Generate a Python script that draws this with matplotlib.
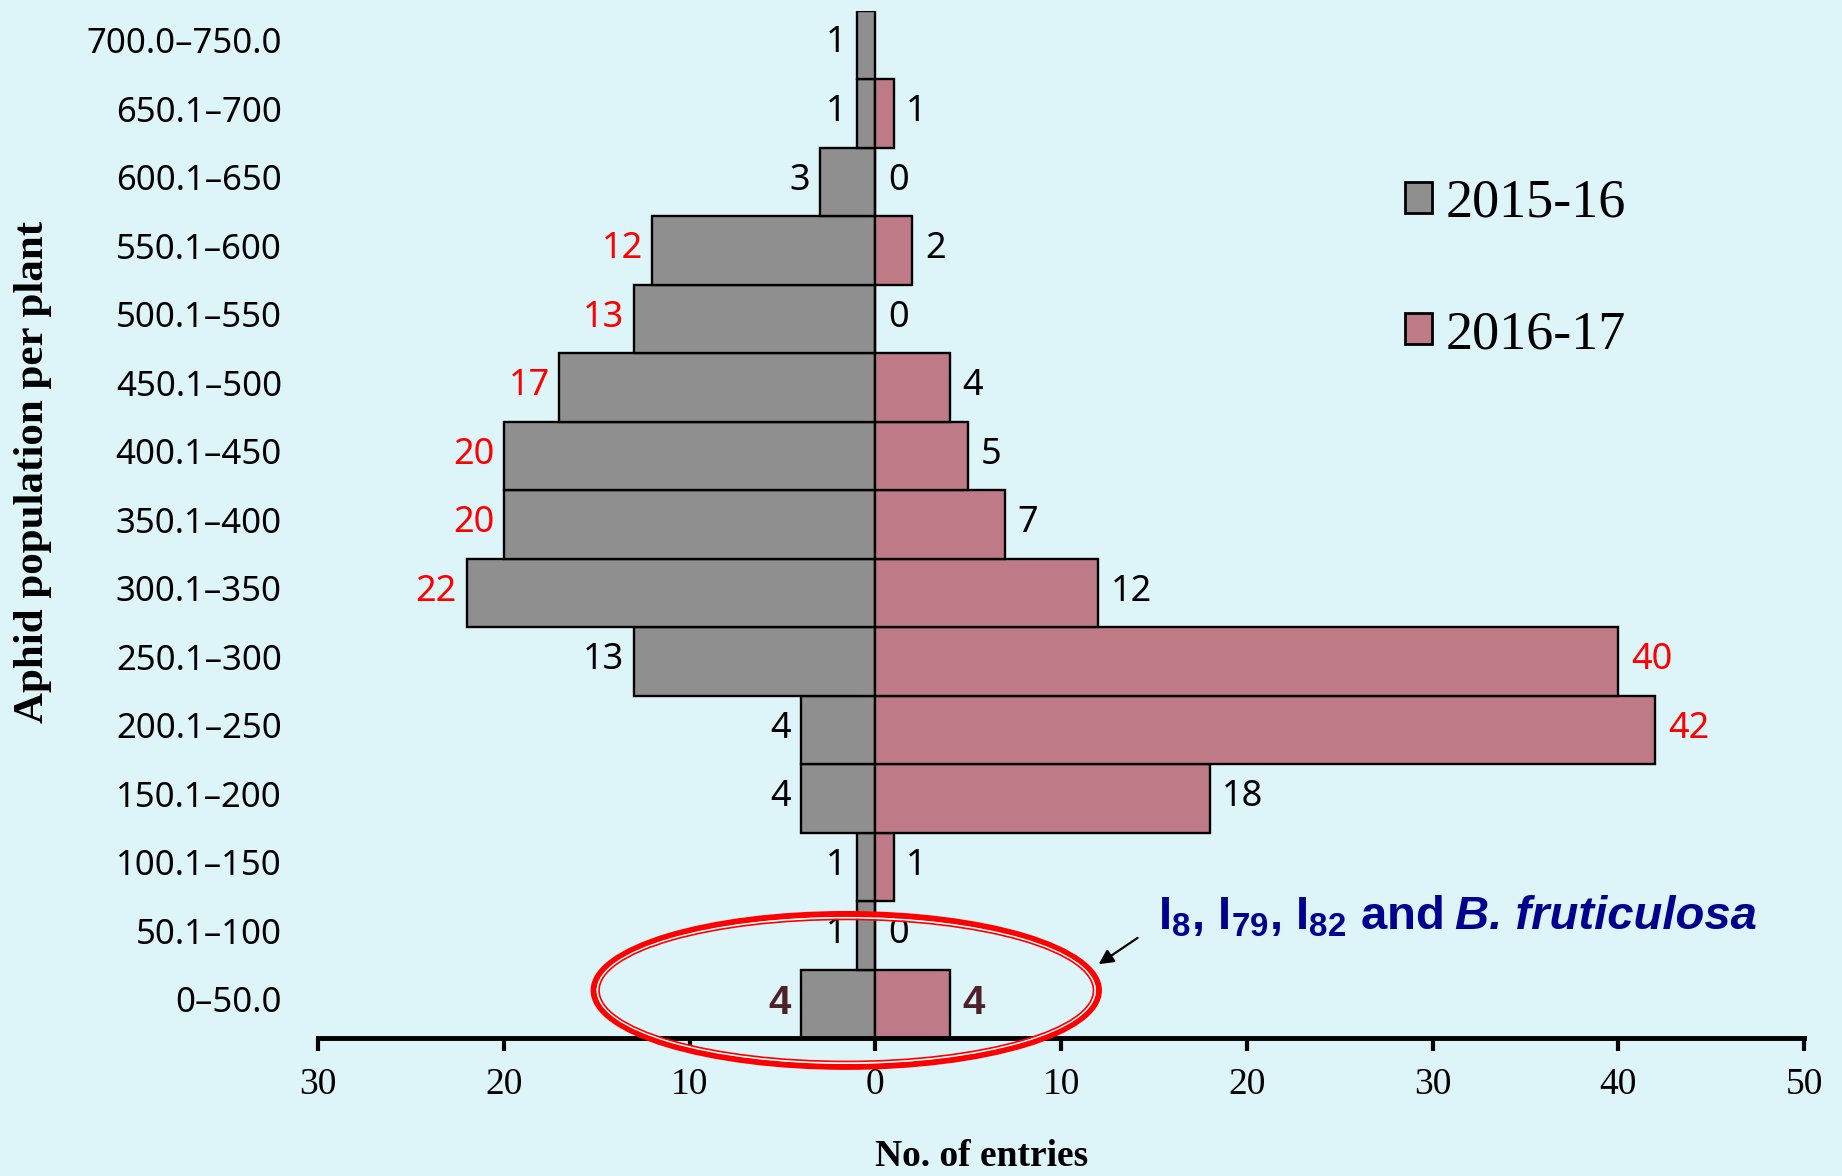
import matplotlib
matplotlib.use("Agg")
import matplotlib.pyplot as plt
from matplotlib.patches import Ellipse, Patch
from matplotlib import font_manager
import matplotlib.transforms as mtransforms
import numpy as np

# ---------------- data ----------------
categories = ["0–50.0", "50.1–100", "100.1–150", "150.1–200", "200.1–250",
              "250.1–300", "300.1–350", "350.1–400", "400.1–450", "450.1–500",
              "500.1–550", "550.1–600", "600.1–650", "650.1–700", "700.0–750.0"]
season_2015_16 = [4, 1, 1, 4, 4, 13, 22, 20, 20, 17, 13, 12, 3, 1, 1]
season_2016_17 = [4, 0, 1, 18, 42, 40, 12, 7, 5, 4, 0, 2, 0, 1, None]
series_names = ["2015-16", "2016-17"]
xtick_values = [-30, -20, -10, 0, 10, 20, 30, 40, 50]
xtick_labels = ["30", "20", "10", "0", "10", "20", "30", "40", "50"]

# ---------------- styles ----------------
BG = "#ddf4f9"
GRAY = "#8f8f8f"
PINK = "#bf7a87"
RED = "#ff0000"
NAVY = "#00008f"
left_label_colors = ["#4d2126", "black", "black", "black", "black", "black", RED, RED, RED, RED,
                     RED, RED, "black", "black", "black"]
right_label_colors = ["#4d2126", "black", "black", "black", RED, RED, "black", "black", "black",
                      "black", "black", "black", "black", "black", "black"]


def has_font(name):
    try:
        font_manager.findfont(font_manager.FontProperties(family=name), fallback_to_default=False)
        return True
    except Exception:
        return False


NARROW = "Liberation Sans Narrow" if has_font("Liberation Sans Narrow") else "Liberation Sans"
SERIF = "Liberation Serif"
SANS = "Noto Sans"

plt.rcParams["mathtext.fontset"] = "custom"
plt.rcParams["mathtext.rm"] = NARROW + ":bold"
plt.rcParams["mathtext.bf"] = NARROW + ":bold"
plt.rcParams["mathtext.it"] = NARROW + ":italic:bold"
plt.rcParams["mathtext.default"] = "rm"

W, H = 1842, 1176
fig = plt.figure(figsize=(W / 100, H / 100), dpi=100, facecolor=BG)
ax = fig.add_axes([318 / W, 1 - 1038.4 / H, (1804 - 318) / W, (1038.4 - 10.6) / H])
ax.set_facecolor(BG)

y = np.arange(len(categories))
left_vals = np.array(season_2015_16, dtype=float)
ax.barh(y, -left_vals, height=1.0, color=GRAY, edgecolor="black", linewidth=1.7, zorder=2)
ry = [i for i, v in enumerate(season_2016_17) if v is not None]
rv = [season_2016_17[i] for i in ry]
ax.barh(ry, rv, height=1.0, color=PINK, edgecolor="black", linewidth=1.7, zorder=2)

ax.set_xlim(-30, 50)
ax.set_ylim(-0.5, len(categories) - 0.5)

for s in ["left", "right", "top"]:
    ax.spines[s].set_visible(False)
ax.spines["bottom"].set_linewidth(3.5)
ax.spines["bottom"].set_zorder(3)

ax.set_xticks(xtick_values)
ax.set_xticklabels(xtick_labels, fontfamily=SERIF, fontsize=27)
ax.tick_params(axis="x", direction="out", length=9, width=3, pad=12)
ax.set_yticks(y)
ax.set_yticklabels(categories, fontfamily=SANS, fontsize=25)
ax.tick_params(axis="y", length=0, pad=26)
shift = mtransforms.ScaledTranslation(0, 3.5 / 72, fig.dpi_scale_trans)
for lbl in ax.get_yticklabels():
    lbl.set_transform(lbl.get_transform() + shift)

# value labels
for i, v in enumerate(season_2015_16):
    if i == 0:
        kw = dict(fontfamily=NARROW, fontweight="bold", fontsize=29)
    else:
        kw = dict(fontfamily=SANS, fontsize=26)
    ax.annotate(str(v), xy=(-v, i), xytext=(-7, 1), textcoords="offset points",
                ha="right", va="center", color=left_label_colors[i], **kw)
for i, v in enumerate(season_2016_17):
    if v is None:
        continue
    if i == 0:
        kw = dict(fontfamily=NARROW, fontweight="bold", fontsize=29)
    else:
        kw = dict(fontfamily=SANS, fontsize=26)
    ax.annotate(str(v), xy=(v, i), xytext=(9, 1), textcoords="offset points",
                ha="left", va="center", color=right_label_colors[i], **kw)

# ellipse highlight (double line)
px_x = 1 / 18.56
px_y = 1 / 68.5
cx, cy, ew, eh = -1.56, 0.2, 27.2, 2.23
ax.add_patch(Ellipse((cx, cy), ew, eh, fill=False, edgecolor=RED, lw=4.4,
                     clip_on=False, zorder=6))
ax.add_patch(Ellipse((cx, cy), ew - 2 * 3.8 * px_x, eh - 2 * 3.8 * px_y, fill=False,
                     edgecolor="white", lw=1.3, clip_on=False, zorder=6))
ax.add_patch(Ellipse((cx, cy), ew - 2 * 5.4 * px_x, eh - 2 * 5.4 * px_y, fill=False,
                     edgecolor=RED, lw=1.2, clip_on=False, zorder=6))

# annotation
ax.annotate("", xy=(11.9, 0.56), xytext=(14.25, 0.99),
            arrowprops=dict(arrowstyle="-|>", color="black", lw=1.6, mutation_scale=22),
            annotation_clip=False, zorder=7)
tx, ty = 15.2, 1.09
t1 = ax.text(tx, ty, r"I$_{8}$, I$_{79}$, I$_{82}$ and",
             fontsize=34, fontfamily=NARROW, fontweight="bold", color=NAVY,
             ha="left", va="baseline", zorder=7)
fig.canvas.draw()
bb = t1.get_window_extent(renderer=fig.canvas.get_renderer())
x_start_disp = ax.transData.transform((tx, ty))
t2_trans = mtransforms.offset_copy(ax.transData, fig=fig,
                                   x=(bb.x1 - x_start_disp[0]) * 72 / fig.dpi + 9, y=0,
                                   units="points")
ax.text(tx, ty, "B. fruticulosa", transform=t2_trans,
        fontsize=34, fontfamily=NARROW, fontweight="bold", fontstyle="italic", color=NAVY,
        ha="left", va="baseline", zorder=7)

# axis titles
fig.text(33 / W, 1 - 472 / H, "Aphid population per plant", rotation=90,
         fontsize=31, fontweight="bold", fontfamily=SERIF, ha="center", va="center")
fig.text(982 / W, 1 - 1157 / H, "No. of entries", fontsize=27, fontweight="bold",
         fontfamily=SERIF, ha="center", va="center")

# legend
handles = [Patch(facecolor=GRAY, edgecolor="black", linewidth=2),
           Patch(facecolor=PINK, edgecolor="black", linewidth=2)]
fig.legend(handles, series_names, loc="center left",
           bbox_to_anchor=(1405 / W, 1 - 269 / H), frameon=False,
           prop=dict(family=SERIF, size=39), handlelength=0.5, handleheight=0.5,
           handletextpad=0.25, labelspacing=1.5, borderpad=0, borderaxespad=0)

fig.savefig("out.png", dpi=100, facecolor=BG)
